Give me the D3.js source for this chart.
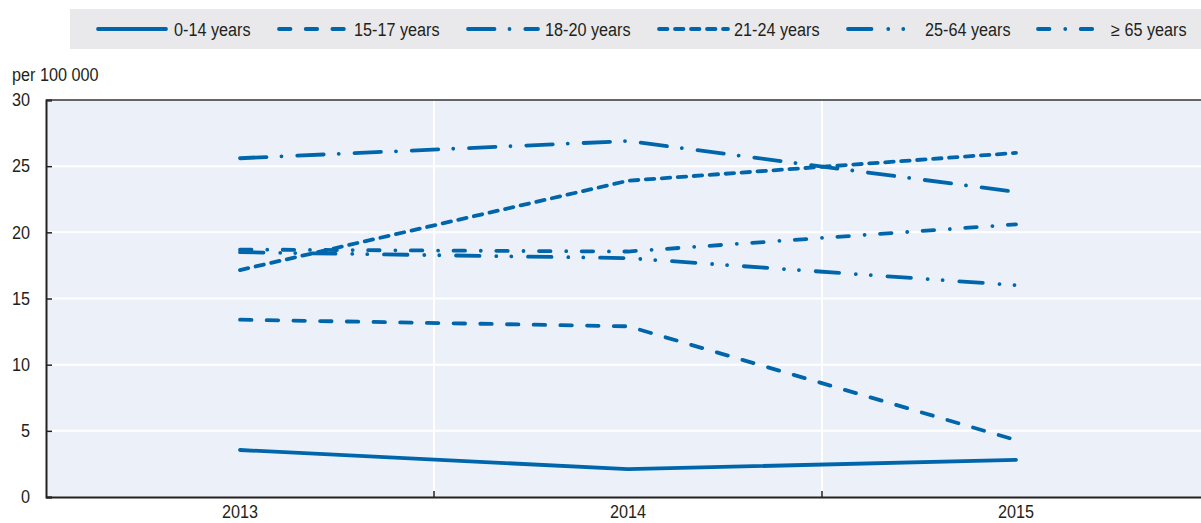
<!DOCTYPE html>
<html><head><meta charset="utf-8">
<script src="https://cdn.jsdelivr.net/npm/d3@7"></script>
<style>
html,body{margin:0;padding:0;background:#fff;}
svg{display:block;font-family:"Liberation Sans Narrow","Arial Narrow","Liberation Sans",Arial,sans-serif;}
</style></head><body>
<svg id="c" width="1201" height="523"></svg>
<script>
const years = ["2013","2014","2015"];
const seriesNames = ["0-14 years","15-17 years","18-20 years","21-24 years","25-64 years","≥ 65 years"];
const v0_14  = [3.55, 2.1, 2.8];
const v15_17 = [13.4, 12.9, 4.3];
const v18_20 = [25.6, 26.9, 23.05];
const v21_24 = [17.15, 23.9, 26.0];
const v25_64 = [18.5, 18.05, 16.0];
const v65    = [18.7, 18.55, 20.6];
const yTicks = [0,5,10,15,20,25,30];
const dashes = ["none","11.5,15.2","26.5,15,0.01,15.8","8.5,7.5","23.5,16.75,0.01,15,0.01,16.75","11.5,15.75,0.01,15.45"];
const legendLineX = [98,279,468,659,848,1038];
const legendLineW = [68,68,70,69,62,56];
const legendTextX = [174,354,545,734,925,1111];

const values = [v0_14,v15_17,v18_20,v21_24,v25_64,v65];
const color = "#0066ab";
const textColor = "#231f20";
const FS = 18, SQUEEZE = 0.9;
const svg = d3.select("#c");
const L=46, R=1210, T=100, B=497;
const x = d3.scaleBand().domain(years).range([L,R]);
const y = d3.scaleLinear().domain([0,30]).range([B,T]);

// legend
svg.append("rect").attr("x",70).attr("y",9).attr("width",1131).attr("height",40).attr("fill","#e9e9eb");
seriesNames.forEach((n,i)=>{
  svg.append("line").attr("x1",legendLineX[i]).attr("x2",legendLineX[i]+legendLineW[i])
    .attr("y1",29).attr("y2",29).attr("stroke",color).attr("stroke-width",3.8)
    .attr("stroke-linecap","round").attr("stroke-dasharray",dashes[i]==="none"?null:dashes[i]);
  svg.append("text").attr("x",legendTextX[i]).attr("y",35.5).attr("font-size",FS).attr("fill",textColor).text(n);
});

// plot bg
svg.append("rect").attr("x",L).attr("y",T).attr("width",R-L).attr("height",B-T).attr("fill","#ecf1f9");
// horizontal grid
svg.append("g").selectAll("line").data(yTicks.filter(t=>t>0&&t<30)).join("line")
  .attr("x1",L).attr("x2",R).attr("y1",d=>y(d)).attr("y2",d=>y(d)).attr("stroke","#fff").attr("stroke-width",2);
// vertical grid at band boundaries
const bounds = years.slice(1).map(d=>x(d));
svg.append("g").selectAll("line").data(bounds).join("line")
  .attr("x1",d=>d).attr("x2",d=>d).attr("y1",T).attr("y2",B).attr("stroke","#fff").attr("stroke-width",2);

// y axis
const yAxis = svg.append("g").attr("transform",`translate(${L},0)`)
  .call(d3.axisLeft(y).tickValues(yTicks).tickSize(-6).tickPadding(16));
yAxis.attr("font-family",null).attr("font-size",null);
yAxis.select(".domain").attr("stroke","#222").attr("stroke-width",2);
yAxis.selectAll(".tick line").attr("stroke","#222").attr("stroke-width",1.5);
yAxis.selectAll("text").attr("font-size",FS).attr("fill",textColor);
// x axis
const xAxis = svg.append("g").attr("transform",`translate(0,${B})`)
  .call(d3.axisBottom(x).tickSize(0).tickPadding(8));
xAxis.attr("font-family",null).attr("font-size",null);
xAxis.select(".domain").attr("stroke","#222").attr("stroke-width",2);
xAxis.selectAll("text").attr("font-size",FS).attr("fill",textColor);
svg.append("g").selectAll("line").data(bounds).join("line")
  .attr("x1",d=>d).attr("x2",d=>d).attr("y1",B-6).attr("y2",B).attr("stroke","#222").attr("stroke-width",1.5);
// top border
svg.append("line").attr("x1",L).attr("x2",R).attr("y1",T).attr("y2",T).attr("stroke","#333").attr("stroke-width",1.5);

svg.append("text").attr("x",12).attr("y",81).attr("font-size",FS).attr("fill",textColor).text("per 100 000");

// lines
const line = d3.line().x((d,i)=>x(years[i])+x.bandwidth()/2).y(d=>y(d));
values.forEach((vals,i)=>{
  svg.append("path").attr("d",line(vals)).attr("fill","none").attr("stroke",color)
    .attr("stroke-width",3.8).attr("stroke-linecap","round").attr("stroke-linejoin","round")
    .attr("stroke-dasharray",dashes[i]==="none"?null:dashes[i]);
});

// condense text horizontally (narrow font not installed)
svg.selectAll("text").each(function(){
  const len = this.getComputedTextLength();
  d3.select(this).attr("textLength",len*SQUEEZE).attr("lengthAdjust","spacingAndGlyphs");
});
</script></body></html>
